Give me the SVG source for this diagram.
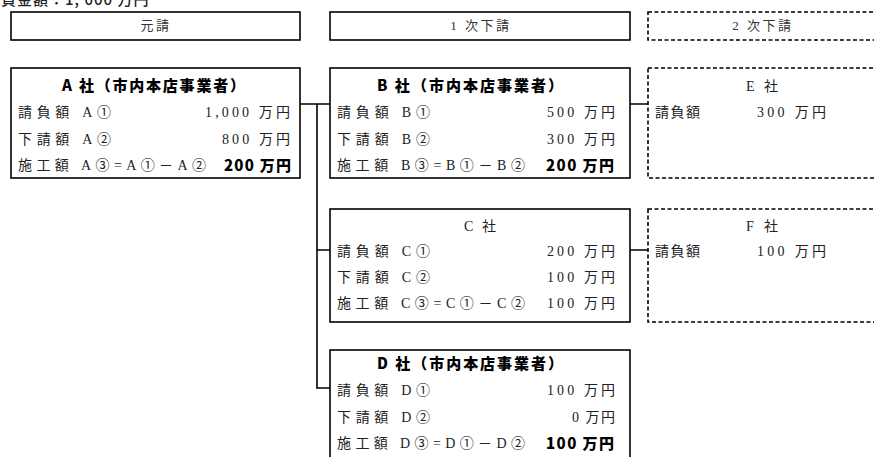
<svg xmlns="http://www.w3.org/2000/svg" width="874" height="457" viewBox="0 0 874 457">
<style>
.box{fill:#fff;stroke:#000;stroke-width:1.6}
.dash{fill:#fff;stroke:#000;stroke-width:1.6;stroke-dasharray:4 2.5}
.t{font-family:"Liberation Serif","Noto Sans CJK JP",serif;font-size:14px;fill:#222}
.h{font-family:"Liberation Serif","Noto Sans CJK JP",serif;font-size:13px;fill:#333;letter-spacing:2.5px}
.b{font-family:"Noto Sans CJK JP","Liberation Sans",sans-serif;font-size:15px;font-weight:900;fill:#000}
.c{stroke:#000;stroke-width:1.6;fill:none}
</style>
<text x="-15" y="5" font-family="Noto Sans CJK JP,Liberation Sans,sans-serif" font-size="15" font-weight="500" letter-spacing="1" fill="#222">請負金額：1, 000 万円</text>
<g id="h1"><rect class="box" x="11" y="12" width="289" height="28"/><text class="h" x="156" y="30" text-anchor="middle">元請</text></g>
<g id="h2"><rect class="box" x="330" y="12" width="300" height="28"/><text class="h" x="481" y="30" text-anchor="middle">1 次下請</text></g>
<g id="h3"><rect class="dash" x="648" y="12" width="240" height="28"/><text class="h" x="763" y="30" text-anchor="middle">2 次下請</text></g>
<g id="connectors">
<path class="c" d="M300 104H330M317 104V388H330M317 250H330M630 104H648M630 250H648"/>
</g>
<g id="A">
<rect class="box" x="11" y="68" width="289" height="110"/>
<text class="b" x="62" y="91" textLength="183" lengthAdjust="spacing">A 社（市内本店事業者）</text>
<text class="t" x="18" y="117" textLength="93" lengthAdjust="spacing">請負額 A①</text><text class="t" x="205" y="117" textLength="85" lengthAdjust="spacing">1,000 万円</text>
<text class="t" x="18" y="144" textLength="93" lengthAdjust="spacing">下請額 A②</text><text class="t" x="222" y="144" textLength="68" lengthAdjust="spacing">800 万円</text>
<text class="t" x="18" y="170" textLength="188" lengthAdjust="spacing">施工額 A③=A①－A②</text><text class="b" x="224" y="171" textLength="67" lengthAdjust="spacing">200 万円</text>
</g>
<g id="B">
<rect class="box" x="330" y="68" width="300" height="110"/>
<text class="b" x="377" y="91" textLength="186" lengthAdjust="spacing">B 社（市内本店事業者）</text>
<text class="t" x="337" y="117" textLength="93" lengthAdjust="spacing">請負額 B①</text><text class="t" x="547" y="117" textLength="68" lengthAdjust="spacing">500 万円</text>
<text class="t" x="337" y="144" textLength="93" lengthAdjust="spacing">下請額 B②</text><text class="t" x="547" y="144" textLength="68" lengthAdjust="spacing">300 万円</text>
<text class="t" x="337" y="170" textLength="188" lengthAdjust="spacing">施工額 B③=B①－B②</text><text class="b" x="546" y="171" textLength="68" lengthAdjust="spacing">200 万円</text>
</g>
<g id="C">
<rect class="box" x="330" y="209" width="300" height="113"/>
<text class="t" x="464" y="231" textLength="32" lengthAdjust="spacing">C 社</text>
<text class="t" x="337" y="256" textLength="93" lengthAdjust="spacing">請負額 C①</text><text class="t" x="547" y="256" textLength="68" lengthAdjust="spacing">200 万円</text>
<text class="t" x="337" y="282" textLength="93" lengthAdjust="spacing">下請額 C②</text><text class="t" x="547" y="282" textLength="68" lengthAdjust="spacing">100 万円</text>
<text class="t" x="337" y="308" textLength="188" lengthAdjust="spacing">施工額 C③=C①－C②</text><text class="t" x="547" y="308" textLength="68" lengthAdjust="spacing">100 万円</text>
</g>
<g id="D">
<rect class="box" x="330" y="350" width="300" height="115"/>
<text class="b" x="377" y="369" textLength="186" lengthAdjust="spacing">D 社（市内本店事業者）</text>
<text class="t" x="337" y="395" textLength="93" lengthAdjust="spacing">請負額 D①</text><text class="t" x="547" y="395" textLength="68" lengthAdjust="spacing">100 万円</text>
<text class="t" x="337" y="422" textLength="93" lengthAdjust="spacing">下請額 D②</text><text class="t" x="572" y="422" textLength="43" lengthAdjust="spacing">0 万円</text>
<text class="t" x="337" y="448" textLength="188" lengthAdjust="spacing">施工額 D③=D①－D②</text><text class="b" x="546" y="449" textLength="68" lengthAdjust="spacing">100 万円</text>
</g>
<g id="E">
<rect class="dash" x="648" y="68" width="240" height="110"/>
<text class="t" x="746" y="91" textLength="32" lengthAdjust="spacing">E 社</text>
<text class="t" x="655" y="117" textLength="45" lengthAdjust="spacing">請負額</text><text class="t" x="757" y="117" textLength="69" lengthAdjust="spacing">300 万円</text>
</g>
<g id="F">
<rect class="dash" x="648" y="209" width="240" height="113"/>
<text class="t" x="746" y="231" textLength="32" lengthAdjust="spacing">F 社</text>
<text class="t" x="655" y="256" textLength="45" lengthAdjust="spacing">請負額</text><text class="t" x="757" y="256" textLength="69" lengthAdjust="spacing">100 万円</text>
</g>
</svg>
